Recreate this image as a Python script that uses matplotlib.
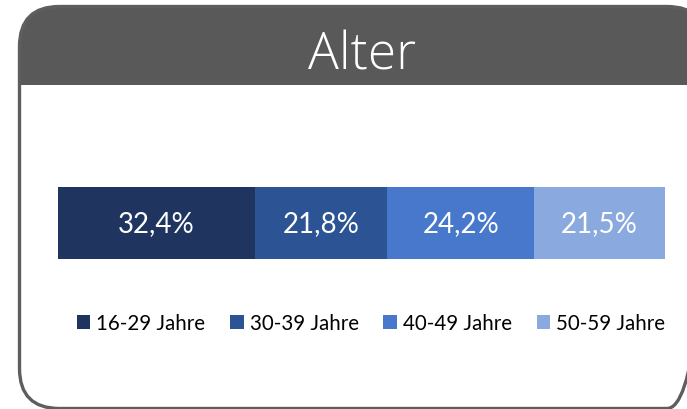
import matplotlib.pyplot as plt
from matplotlib.patches import FancyBboxPatch, Rectangle

# data
categories = ['16-29 Jahre', '30-39 Jahre', '40-49 Jahre', '50-59 Jahre']
values = [32.4, 21.8, 24.2, 21.5]
labels = ['32,4%', '21,8%', '24,2%', '21,5%']
colors = ['#1f3560', '#2c5394', '#4778cc', '#8aa9de']

W, H = 687, 410
fig = plt.figure(figsize=(W / 100, H / 100), dpi=100)

# background card drawn in pixel coordinates
bg = fig.add_axes([0, 0, 1, 1])
bg.set_xlim(0, W)
bg.set_ylim(H, 0)
bg.axis('off')

card = dict(boxstyle='round,pad=0,rounding_size=40')
x0, y0, cw, ch = 19.5, 7.5, 687.5, 402
fill = FancyBboxPatch((x0, y0), cw, ch, facecolor='#595959', edgecolor='none', **card)
bg.add_patch(fill)
fill.set_clip_path(Rectangle((0, 0), W, 86, transform=bg.transData))
bg.add_patch(FancyBboxPatch((x0, y0), cw, ch, facecolor='none',
                            edgecolor='#5e5e5e', linewidth=2.4, **card))
bg.text(362, 56, 'Alter', color='white', fontsize=37, family='Open Sans',
        fontweight='light', ha='center', va='center')

# stacked bar
ax = fig.add_axes([58 / W, (H - 260) / H, 607 / W, 72 / H])
left = 0
for cat, v, lab, c in zip(categories, values, labels, colors):
    ax.barh(0, v, left=left, height=1, color=c, label=cat)
    ax.text(left + v / 2, 0, lab, color='white', fontsize=20, family='Lato',
            ha='center', va='center')
    left += v
ax.set_xlim(0, sum(values))
ax.set_ylim(-0.5, 0.5)
ax.axis('off')

handles, labs = ax.get_legend_handles_labels()
fig.legend(handles, labs, loc='center', bbox_to_anchor=(371 / W, (H - 324) / H),
           ncol=4, frameon=False, prop={'family': 'Lato', 'size': 14.8},
           handlelength=0.65, handleheight=0.65, handletextpad=0.3,
           columnspacing=1.2)

fig.savefig('out.png', dpi=100)
